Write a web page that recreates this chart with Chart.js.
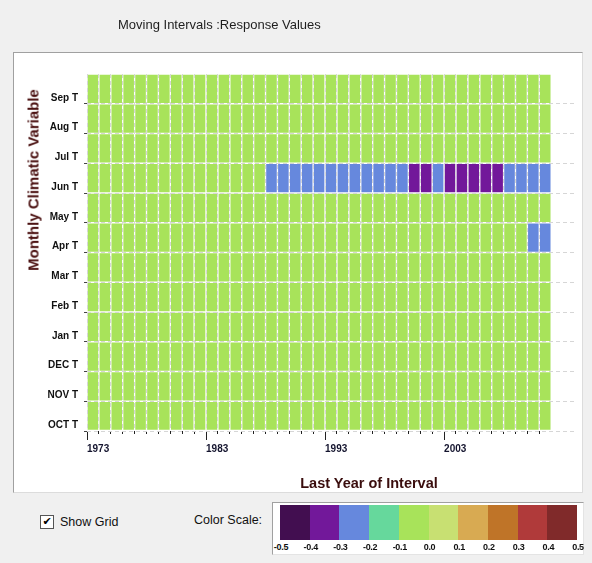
<!DOCTYPE html>
<html>
<head>
<meta charset="utf-8">
<title>Moving Intervals :Response Values</title>
<script src="https://cdn.jsdelivr.net/npm/chart.js@4.4.1/dist/chart.umd.min.js"></script>
<style>
    html, body { margin: 0; padding: 0; }
    body {
        width: 592px; height: 563px; position: relative; overflow: hidden;
        background: #f0f0f0; color: #111;
        font-family: "Liberation Sans", Arial, sans-serif;
    }
    #panel {
        position: absolute; left: 13px; top: 52px; width: 568px; height: 439px;
        background: #fff;
        border-top: 1px solid #a0a0a0; border-left: 1px solid #a0a0a0;
        border-right: 1px solid #dcdcdc; border-bottom: 1px solid #dcdcdc;
    }
    #chart { position: absolute; left: 0; top: 0; }
    #title { position: absolute; left: 118px; top: 17px; font-size: 13px; color: #1e1e1e; white-space: nowrap; }
    #ytitle {
        position: absolute; left: 33px; top: 180px; white-space: nowrap;
        transform: translate(-50%, -50%) rotate(-90deg);
        font-weight: bold; font-size: 15px; color: #4a1010;
    }
    #xtitle {
        position: absolute; left: 369px; top: 483px; white-space: nowrap;
        transform: translate(-50%, -50%);
        font-weight: bold; font-size: 14.5px; color: #3a0d0d;
    }
    #grid-check {
        position: absolute; left: 40px; top: 515px; width: 12px; height: 12px;
        background: #fff; border: 1px solid #555;
        font-family: "DejaVu Sans", sans-serif; font-size: 11px; line-height: 12px;
        text-align: center; color: #000;
    }
    #grid-label { position: absolute; left: 60px; top: 515px; font-size: 12.5px; color: #111; }
    #scale-label { position: absolute; left: 194px; top: 513px; font-size: 12.5px; color: #111; }
    #scale-box {
        position: absolute; left: 272px; top: 502px; width: 310px; height: 51px;
        background: #fff;
        border-top: 1px solid #a0a0a0; border-left: 1px solid #a0a0a0;
        border-right: 1px solid #e4e4e4; border-bottom: 1px solid #e4e4e4;
    }
    .swatch { position: absolute; top: 505px; height: 35px; }
    .scale-tick {
        position: absolute; top: 542px; transform: translateX(-50%);
        font-size: 9px; font-weight: bold; color: #111; letter-spacing: -0.3px;
    }
</style>
</head>
<body>
<div id="panel"></div>
<canvas id="chart" width="592" height="492"></canvas>
<div id="title">Moving Intervals :Response Values</div>
<div id="ytitle">Monthly Climatic Variable</div>
<div id="xtitle">Last Year of Interval</div>
<div id="grid-check">✔</div>
<div id="grid-label">Show Grid</div>
<div id="scale-label">Color Scale:</div>
<div id="scale-box"></div>

<script>
// --- Data ---
const years = [
    1973, 1974, 1975, 1976, 1977, 1978, 1979, 1980, 1981, 1982,
    1983, 1984, 1985, 1986, 1987, 1988, 1989, 1990, 1991, 1992,
    1993, 1994, 1995, 1996, 1997, 1998, 1999, 2000, 2001, 2002,
    2003, 2004, 2005, 2006, 2007, 2008, 2009, 2010, 2011
];
const xTickLabels = [1973, 1983, 1993, 2003];
// bottom row first
const monthLabels = ['OCT T', 'NOV T', 'DEC T', 'Jan T', 'Feb T', 'Mar T',
                     'Apr T', 'May T', 'Jun T', 'Jul T', 'Aug T', 'Sep T'];

const scaleTicks = [-0.5, -0.4, -0.3, -0.2, -0.1, 0.0, 0.1, 0.2, 0.3, 0.4, 0.5];
const scaleColors = ['#420e50', '#72189a', '#6688dd', '#66d89c', '#a8e35a',
                     '#c8e072', '#d8aa52', '#bf7428', '#b03a3a', '#802a2a'];

const octT = [-0.05, -0.05, -0.05, -0.05, -0.05, -0.05, -0.05, -0.05, -0.05, -0.05,
              -0.05, -0.05, -0.05, -0.05, -0.05, -0.05, -0.05, -0.05, -0.05, -0.05,
              -0.05, -0.05, -0.05, -0.05, -0.05, -0.05, -0.05, -0.05, -0.05, -0.05,
              -0.05, -0.05, -0.05, -0.05, -0.05, -0.05, -0.05, -0.05, -0.05];
const novT = [-0.05, -0.05, -0.05, -0.05, -0.05, -0.05, -0.05, -0.05, -0.05, -0.05,
              -0.05, -0.05, -0.05, -0.05, -0.05, -0.05, -0.05, -0.05, -0.05, -0.05,
              -0.05, -0.05, -0.05, -0.05, -0.05, -0.05, -0.05, -0.05, -0.05, -0.05,
              -0.05, -0.05, -0.05, -0.05, -0.05, -0.05, -0.05, -0.05, -0.05];
const decT = [-0.05, -0.05, -0.05, -0.05, -0.05, -0.05, -0.05, -0.05, -0.05, -0.05,
              -0.05, -0.05, -0.05, -0.05, -0.05, -0.05, -0.05, -0.05, -0.05, -0.05,
              -0.05, -0.05, -0.05, -0.05, -0.05, -0.05, -0.05, -0.05, -0.05, -0.05,
              -0.05, -0.05, -0.05, -0.05, -0.05, -0.05, -0.05, -0.05, -0.05];
const janT = [-0.05, -0.05, -0.05, -0.05, -0.05, -0.05, -0.05, -0.05, -0.05, -0.05,
              -0.05, -0.05, -0.05, -0.05, -0.05, -0.05, -0.05, -0.05, -0.05, -0.05,
              -0.05, -0.05, -0.05, -0.05, -0.05, -0.05, -0.05, -0.05, -0.05, -0.05,
              -0.05, -0.05, -0.05, -0.05, -0.05, -0.05, -0.05, -0.05, -0.05];
const febT = [-0.05, -0.05, -0.05, -0.05, -0.05, -0.05, -0.05, -0.05, -0.05, -0.05,
              -0.05, -0.05, -0.05, -0.05, -0.05, -0.05, -0.05, -0.05, -0.05, -0.05,
              -0.05, -0.05, -0.05, -0.05, -0.05, -0.05, -0.05, -0.05, -0.05, -0.05,
              -0.05, -0.05, -0.05, -0.05, -0.05, -0.05, -0.05, -0.05, -0.05];
const marT = [-0.05, -0.05, -0.05, -0.05, -0.05, -0.05, -0.05, -0.05, -0.05, -0.05,
              -0.05, -0.05, -0.05, -0.05, -0.05, -0.05, -0.05, -0.05, -0.05, -0.05,
              -0.05, -0.05, -0.05, -0.05, -0.05, -0.05, -0.05, -0.05, -0.05, -0.05,
              -0.05, -0.05, -0.05, -0.05, -0.05, -0.05, -0.05, -0.05, -0.05];
const aprT = [-0.05, -0.05, -0.05, -0.05, -0.05, -0.05, -0.05, -0.05, -0.05, -0.05,
              -0.05, -0.05, -0.05, -0.05, -0.05, -0.05, -0.05, -0.05, -0.05, -0.05,
              -0.05, -0.05, -0.05, -0.05, -0.05, -0.05, -0.05, -0.05, -0.05, -0.05,
              -0.05, -0.05, -0.05, -0.05, -0.05, -0.05, -0.05, -0.25, -0.25];
const mayT = [-0.05, -0.05, -0.05, -0.05, -0.05, -0.05, -0.05, -0.05, -0.05, -0.05,
              -0.05, -0.05, -0.05, -0.05, -0.05, -0.05, -0.05, -0.05, -0.05, -0.05,
              -0.05, -0.05, -0.05, -0.05, -0.05, -0.05, -0.05, -0.05, -0.05, -0.05,
              -0.05, -0.05, -0.05, -0.05, -0.05, -0.05, -0.05, -0.05, -0.05];
const junT = [-0.05, -0.05, -0.05, -0.05, -0.05, -0.05, -0.05, -0.05, -0.05, -0.05,
              -0.05, -0.05, -0.05, -0.05, -0.05, -0.25, -0.25, -0.25, -0.25, -0.25,
              -0.25, -0.25, -0.25, -0.25, -0.25, -0.25, -0.25, -0.35, -0.35, -0.25,
              -0.35, -0.35, -0.35, -0.35, -0.35, -0.25, -0.25, -0.25, -0.25];
const julT = [-0.05, -0.05, -0.05, -0.05, -0.05, -0.05, -0.05, -0.05, -0.05, -0.05,
              -0.05, -0.05, -0.05, -0.05, -0.05, -0.05, -0.05, -0.05, -0.05, -0.05,
              -0.05, -0.05, -0.05, -0.05, -0.05, -0.05, -0.05, -0.05, -0.05, -0.05,
              -0.05, -0.05, -0.05, -0.05, -0.05, -0.05, -0.05, -0.05, -0.05];
const augT = [-0.05, -0.05, -0.05, -0.05, -0.05, -0.05, -0.05, -0.05, -0.05, -0.05,
              -0.05, -0.05, -0.05, -0.05, -0.05, -0.05, -0.05, -0.05, -0.05, -0.05,
              -0.05, -0.05, -0.05, -0.05, -0.05, -0.05, -0.05, -0.05, -0.05, -0.05,
              -0.05, -0.05, -0.05, -0.05, -0.05, -0.05, -0.05, -0.05, -0.05];
const sepT = [-0.05, -0.05, -0.05, -0.05, -0.05, -0.05, -0.05, -0.05, -0.05, -0.05,
              -0.05, -0.05, -0.05, -0.05, -0.05, -0.05, -0.05, -0.05, -0.05, -0.05,
              -0.05, -0.05, -0.05, -0.05, -0.05, -0.05, -0.05, -0.05, -0.05, -0.05,
              -0.05, -0.05, -0.05, -0.05, -0.05, -0.05, -0.05, -0.05, -0.05];

const rows = [octT, novT, decT, janT, febT, marT, aprT, mayT, junT, julT, augT, sepT];

// --- Colour lookup ---
function colorFor(v) {
    for (let i = 0; i < scaleColors.length; i++) {
        if (v < scaleTicks[i + 1]) return scaleColors[i];
    }
    return scaleColors[scaleColors.length - 1];
}

// --- Colour scale legend ---
const swatchLeft = 280, swatchWidth = 29.7;
scaleColors.forEach((c, i) => {
    const d = document.createElement('div');
    d.className = 'swatch';
    d.style.left = (swatchLeft + i * swatchWidth) + 'px';
    d.style.width = (swatchWidth + 0.5) + 'px';
    d.style.background = c;
    document.body.appendChild(d);
});
scaleTicks.forEach((t, i) => {
    const d = document.createElement('div');
    d.className = 'scale-tick';
    d.style.left = (swatchLeft + i * swatchWidth + 1) + 'px';
    d.textContent = t.toFixed(1);
    document.body.appendChild(d);
});

// --- Heat map ---
const tickFont = { family: 'Liberation Sans', size: 10, weight: 'bold' };
const lastYear = years[years.length - 1];

const datasets = rows.map((vals, r) => ({
    label: monthLabels[r],
    data: years.map(y => ({ x: y + 0.5, y: [r, r + 1] })),
    backgroundColor: vals.map(colorFor),
    borderColor: '#ffffff',
    borderWidth: 1,
    borderSkipped: false,
    grouped: false,
    barPercentage: 1,
    categoryPercentage: 1
}));

new Chart(document.getElementById('chart'), {
    type: 'bar',
    data: { datasets: datasets },
    options: {
        responsive: false,
        animation: false,
        layout: { padding: { top: 74, right: 17, left: 0, bottom: 0 } },
        plugins: {
            legend: { display: false },
            tooltip: { enabled: false }
        },
        scales: {
            x: {
                type: 'linear',
                min: 1973,
                max: 2014,
                offset: false,
                afterBuildTicks: s => { s.ticks = s.ticks.filter(t => t.value <= lastYear); },
                afterFit: s => { s.height = 61; },
                border: { display: false, dash: [4, 3] },
                grid: {
                    z: 1,
                    offset: false,
                    color: '#d6d6d6',
                    tickLength: 9,
                    tickColor: '#222',
                    tickBorderDash: ctx => (ctx.tick && xTickLabels.includes(ctx.tick.value)) ? [] : [3, 40]
                },
                ticks: {
                    stepSize: 1,
                    autoSkip: false,
                    maxRotation: 0,
                    minRotation: 0,
                    align: 'start',
                    padding: 3,
                    color: '#14142e',
                    font: tickFont,
                    callback: v => xTickLabels.includes(v) ? String(v) : ''
                }
            },
            y: {
                min: 0,
                max: 12,
                afterFit: s => { s.width = 87; },
                border: { display: false, dash: [4, 3] },
                grid: {
                    z: 1,
                    color: ctx => (ctx.tick && ctx.tick.value >= 12) ? 'rgba(0,0,0,0)' : '#d6d6d6',
                    tickColor: ctx => (ctx.tick && ctx.tick.value >= 12) ? 'rgba(0,0,0,0)' : '#444',
                    tickLength: 3
                },
                ticks: {
                    stepSize: 1,
                    autoSkip: false,
                    padding: 6,
                    labelOffset: -6,
                    color: '#111',
                    font: tickFont,
                    callback: v => monthLabels[v] || ''
                }
            }
        }
    }
});
</script>
</body>
</html>
